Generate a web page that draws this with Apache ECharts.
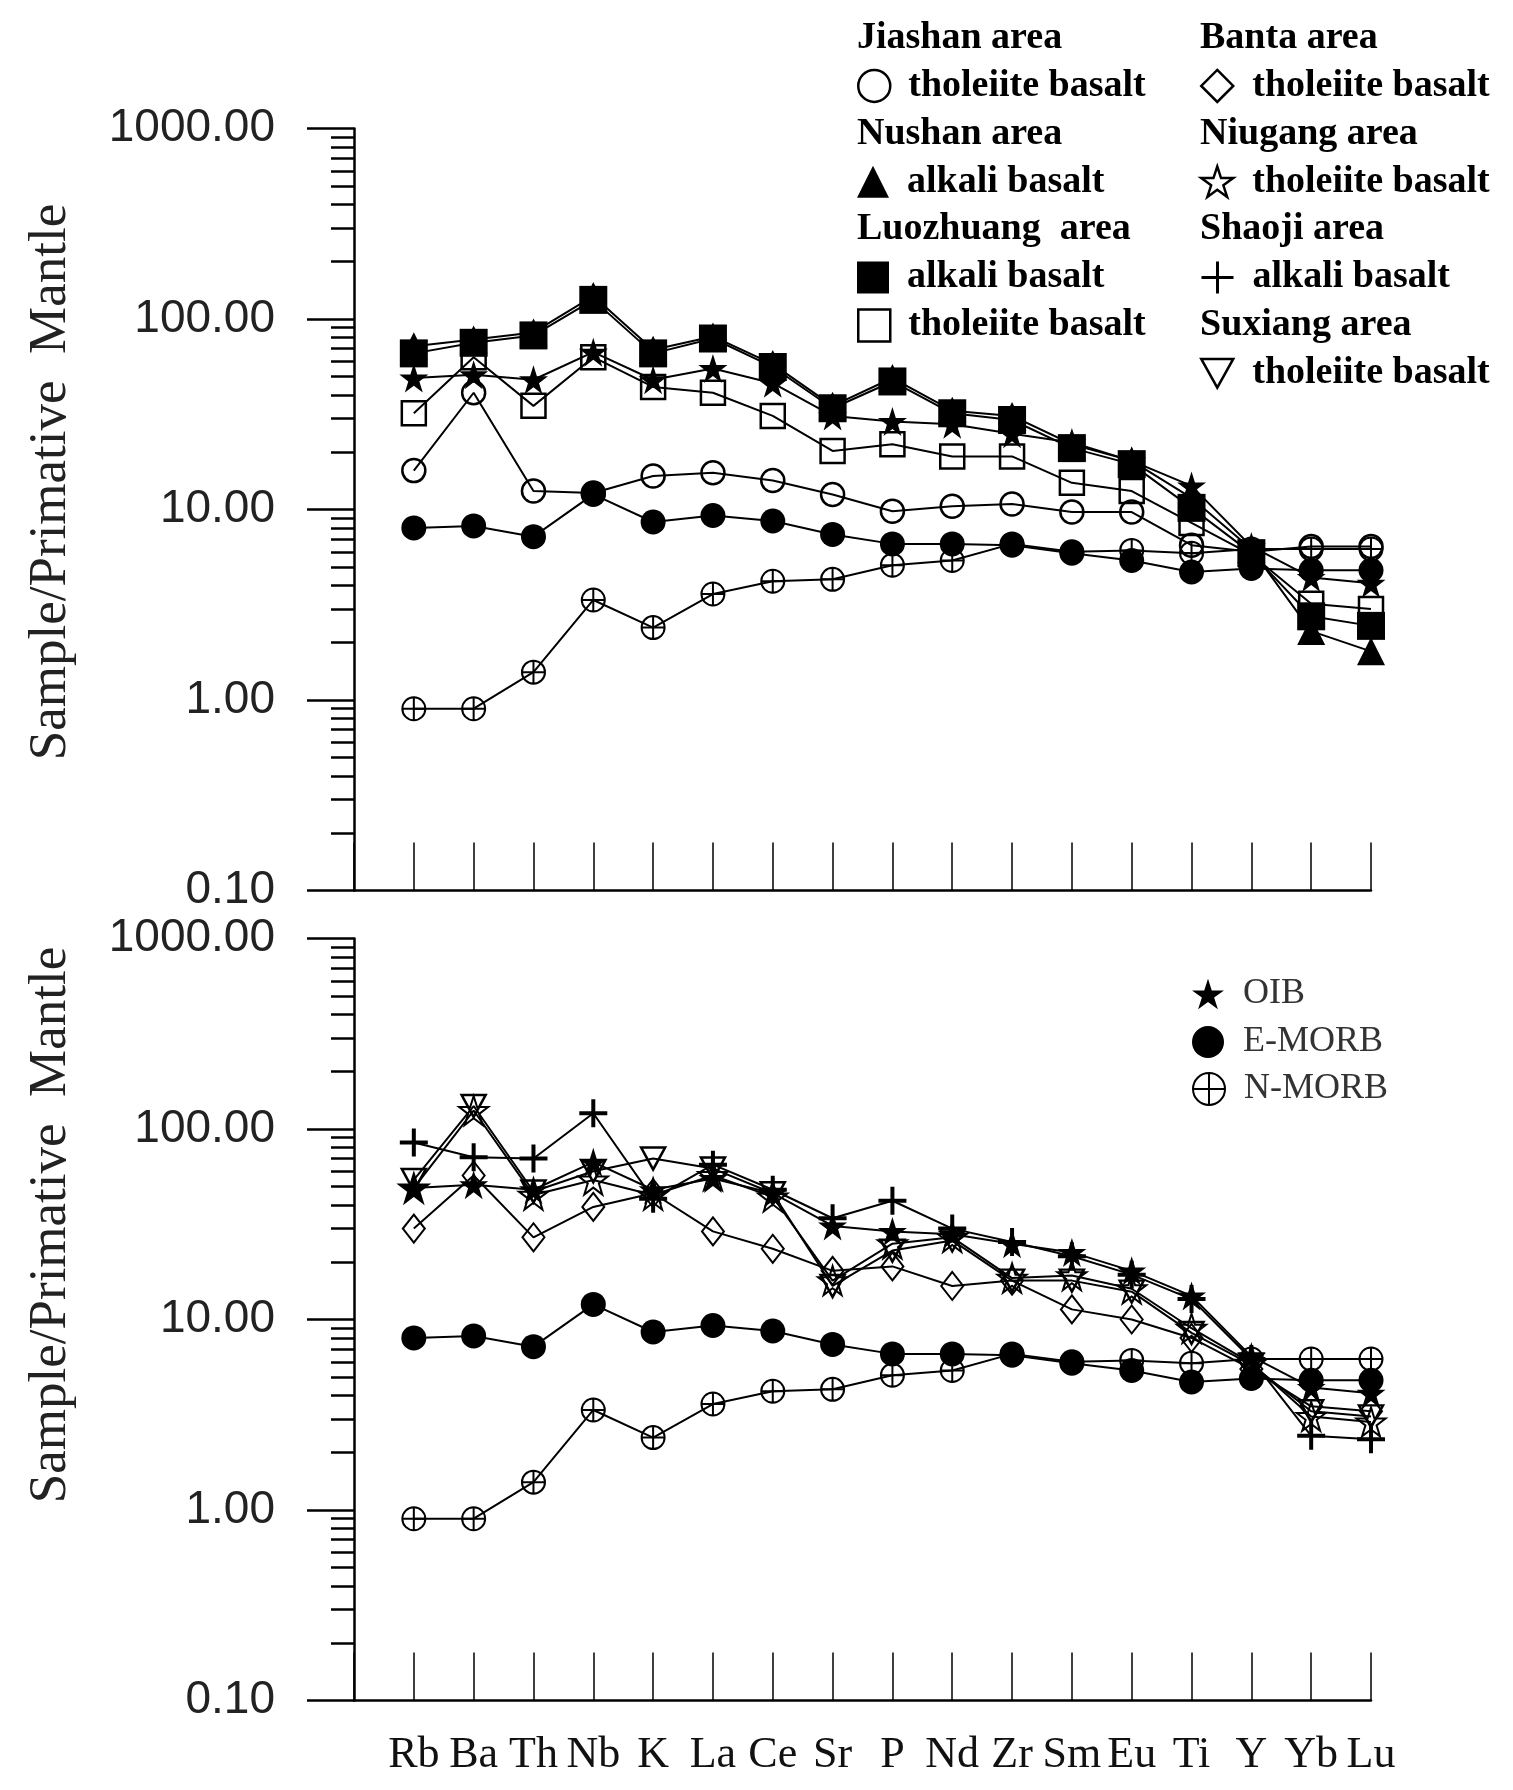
<!DOCTYPE html>
<html>
<head>
<meta charset="utf-8">
<script src="https://cdn.jsdelivr.net/npm/echarts@6/dist/echarts.min.js"></script>
<style>
html,body{margin:0;padding:0;background:#fff;}
#c{width:1513px;height:1790px;}
</style>
</head>
<body>
<div id="c"></div>
<script>
// ---------- data ----------
const elements = ['Rb','Ba','Th','Nb','K','La','Ce','Sr','P','Nd','Zr','Sm','Eu','Ti','Y','Yb','Lu'];
const categories = [''].concat(elements);
const yTickLabels = ['0.10','1.00','10.00','100.00','1000.00'];

// reference compositions
const oib   = [49, 51, 48, 67, 48, 55, 46, 31, 29, 28, 25, 22.5, 18, 13.3, 6.4, 4.4, 4.1];
const emorb = [8.0, 8.2, 7.2, 12.0, 8.6, 9.3, 8.7, 7.4, 6.6, 6.6, 6.5, 5.9, 5.4, 4.7, 4.9, 4.8, 4.8];
const nmorb = [0.9, 0.9, 1.4, 3.35, 2.4, 3.6, 4.2, 4.3, 5.1, 5.4, 6.6, 6.0, 6.1, 5.9, 6.2, 6.2, 6.2];

// upper panel
const jiashanTholeiite   = [16, 41, 12.5, 12.2, 15, 15.6, 14.2, 12.0, 9.8, 10.4, 10.7, 9.7, 9.7, 6.5, 6.0, 6.4, 6.4];
const nushanAlkali       = [72, 78, 85, 132, 69, 81, 58, 35, 49, 33, 31, 22, 18, 11.5, 6.2, 2.3, 1.8];
const luozhuangAlkali    = [66, 75, 82, 126, 66, 79, 56, 34, 47, 32, 29.5, 21, 17.3, 10.2, 5.9, 2.75, 2.45];
const luozhuangTholeiite = [32, 63, 35, 63, 44, 41, 31, 20.3, 22, 19, 19, 13.8, 12.5, 8.5, 5.8, 3.2, 3.0];

// lower panel
const bantaTholeiite   = [30, 57, 27, 39, 46, 29, 23.5, 18, 19, 15, 16, 11.3, 10, 8, 5.5, 3.5, 3.3];
const niugangTholeiite = [49, 125, 45, 54, 45, 57, 44, 16, 25, 27, 16.5, 17, 14.5, 9, 5.9, 3.1, 2.9];
const shaojiAlkali     = [85, 71, 70, 121, 43, 65, 48, 34, 42, 30, 25.5, 21.5, 17.2, 12.8, 6.2, 2.45, 2.35];
const suxiangTholeiite = [54, 132, 47, 60, 70, 62, 46, 15, 23, 26, 16, 16, 14, 8.5, 5.8, 3.3, 3.1];

// ---------- styles ----------
const SYM = {
  star: 'path://M50,0L61.8,36.3L100,36.3L69.1,58.8L80.9,95.1L50,72.6L19.1,95.1L30.9,58.8L0,36.3L38.2,36.3Z',
  plus: 'path://M5,0L5,10M0,5L10,5',
  oplus: 'path://M10,0A10,10,0,1,1,10,20A10,10,0,1,1,10,0ZM10,0L10,20M0,10L20,10',
  down: 'path://M0,0L20,0L10,18Z'
};
const NONE = 'rgba(0,0,0,0)';
const BLACK = '#000';

// minor log ticks (2..9 in each decade), positioned on an overlay axis in log10 space
const minorTicks = [];
for (let d = -1; d < 3; d++) {
  for (let k = 2; k <= 9; k++) minorTicks.push(Math.log10(k) + d);
}

function mk(name, values, panel, symbol, size, fill, bw) {
  return {
    type: 'line', name: name,
    xAxisIndex: panel, yAxisIndex: panel * 2,
    data: elements.map((e, i) => [e, values[i]]),
    symbol: symbol, symbolSize: size, showSymbol: true, showAllSymbol: true,
    lineStyle: { color: BLACK, width: 2 },
    itemStyle: { color: fill, borderColor: BLACK, borderWidth: bw },
    emphasis: { disabled: true }, silent: true, animation: false
  };
}

const series = [
  // upper panel
  mk('N-MORB', nmorb, 0, SYM.oplus, 23, NONE, 2),
  mk('Jiashan tholeiite basalt', jiashanTholeiite, 0, 'circle', 23, NONE, 2.5),
  mk('Luozhuang2 tholeiite basalt', luozhuangTholeiite, 0, 'rect', 24, NONE, 2.5),
  mk('OIB', oib, 0, SYM.star, 29, BLACK, 0),
  mk('E-MORB', emorb, 0, 'circle', 25, BLACK, 0),
  mk('Nushan alkali basalt', nushanAlkali, 0, 'triangle', 28, BLACK, 0),
  mk('Luozhuang alkali basalt', luozhuangAlkali, 0, 'rect', 28, BLACK, 0),
  // lower panel
  mk('N-MORB', nmorb, 1, SYM.oplus, 23, NONE, 2),
  mk('Banta tholeiite basalt', bantaTholeiite, 1, 'diamond', [22, 28], NONE, 2),
  mk('Suxiang tholeiite basalt', suxiangTholeiite, 1, SYM.down, [24, 22], NONE, 2.5),
  mk('Niugang tholeiite basalt', niugangTholeiite, 1, SYM.star, 29, NONE, 2),
  mk('OIB', oib, 1, SYM.star, 29, BLACK, 0),
  mk('E-MORB', emorb, 1, 'circle', 25, BLACK, 0),
  mk('Shaoji alkali basalt', shaojiAlkali, 1, SYM.plus, 28, NONE, 4)
];

// ---------- legend ----------
const rowY = i => 38 + 47.9 * i;
const areaFont = { fontFamily: 'Liberation Serif', fontWeight: 'bold', fontSize: 38, color: '#000' };
function leg(name, left, centerY, icon, fill, bw, pad, font) {
  return {
    show: true, selectedMode: false, data: [name],
    left: left, top: centerY - 19, padding: 0,
    itemWidth: 32, itemHeight: 32, icon: icon,
    itemStyle: { color: fill, borderColor: BLACK, borderWidth: bw },
    formatter: n => n.replace(/^\S+ /, ''),
    textStyle: Object.assign({ padding: [0, 0, 0, pad] }, font)
  };
}
const refFont = { fontFamily: 'Liberation Serif', fontSize: 36, color: '#333' };
const legends = [
  leg('Jiashan tholeiite basalt', 857, rowY(1), 'circle', NONE, 2.5, 13, areaFont),
  leg('Nushan alkali basalt', 857, rowY(3), 'triangle', BLACK, 0, 13, areaFont),
  leg('Luozhuang alkali basalt', 857, rowY(5), 'rect', BLACK, 0, 13, areaFont),
  leg('Luozhuang2 tholeiite basalt', 857, rowY(6), 'rect', NONE, 2.5, 13, areaFont),
  leg('Banta tholeiite basalt', 1200, rowY(1), 'diamond', NONE, 2.5, 14, areaFont),
  leg('Niugang tholeiite basalt', 1200, rowY(3), SYM.star, NONE, 2.5, 14, areaFont),
  leg('Shaoji alkali basalt', 1200, rowY(5), SYM.plus, NONE, 3, 14, areaFont),
  leg('Suxiang tholeiite basalt', 1200, rowY(7), SYM.down, NONE, 2.5, 14, areaFont),
  Object.assign(leg('OIB', 1192, 995, SYM.star, BLACK, 0, 14, refFont), { formatter: n => n }),
  Object.assign(leg('E-MORB', 1192, 1043, 'circle', BLACK, 0, 14, refFont), { formatter: n => n }),
  Object.assign(leg('N-MORB', 1192, 1090, SYM.oplus, NONE, 2, 14, refFont), { formatter: n => n })
];

const headers = [
  ['Jiashan area', 857, 0], ['Nushan area', 857, 2], ['Luozhuang  area', 857, 4],
  ['Banta area', 1200, 0], ['Niugang area', 1200, 2], ['Shaoji area', 1200, 4], ['Suxiang area', 1200, 6]
];

const graphic = headers.map(h => ({
  type: 'text', left: h[1], top: rowY(h[2]) - 19, silent: true,
  style: { text: h[0], font: 'bold 38px "Liberation Serif"', fill: '#000' }
})).concat([482, 1225].map(cy => ({
  type: 'text', x: 51, y: cy, rotation: Math.PI / 2, silent: true,
  style: { text: 'Sample/Primative  Mantle', font: '53px "Liberation Serif"', fill: '#222',
           align: 'center', verticalAlign: 'middle' }
})));

// ---------- axes ----------
function xAx(idx, showLabel) {
  return {
    gridIndex: idx, type: 'category', data: categories, boundaryGap: false,
    axisLine: { show: true, onZero: false, lineStyle: { color: BLACK, width: 2.5 } },
    axisTick: { show: true, inside: true, length: 48, interval: 0, lineStyle: { color: BLACK, width: 1.5 } },
    axisLabel: { show: showLabel, interval: 0, margin: 33, hideOverlap: false,
                 fontFamily: 'Liberation Serif', fontSize: 44, color: '#111' },
    splitLine: { show: false }
  };
}
function yLog(idx) {
  return {
    gridIndex: idx, type: 'log', logBase: 10, min: 0.1, max: 1000,
    axisLine: { show: true, onZero: false, lineStyle: { color: BLACK, width: 2.5 } },
    axisTick: { show: true, length: 47, lineStyle: { color: BLACK, width: 2.5 } },
    axisLabel: {
      margin: 79, fontFamily: 'Liberation Sans', fontSize: 46, color: '#222',
      formatter: v => {
        const k = Math.round(Math.log10(v)) + 1;
        return yTickLabels[k] !== undefined ? yTickLabels[k] : v.toFixed(2);
      }
    },
    splitLine: { show: false }
  };
}
function yMinor(idx) {
  return {
    gridIndex: idx, type: 'value', position: 'left', min: -1, max: 3,
    axisLine: { show: false, onZero: false },
    axisLabel: { show: false },
    splitLine: { show: false },
    axisTick: { show: true, customValues: minorTicks, length: 23, lineStyle: { color: BLACK, width: 2.5 } }
  };
}

const chart = echarts.init(document.getElementById('c'), null, { renderer: 'canvas' });
chart.setOption({
  animation: false,
  backgroundColor: '#fff',
  grid: [
    { left: 354, top: 128.5, width: 1017, height: 762 },
    { left: 354, top: 938.5, width: 1017, height: 762 }
  ],
  xAxis: [xAx(0, false), xAx(1, true)],
  yAxis: [yLog(0), yMinor(0), yLog(1), yMinor(1)],
  legend: legends,
  graphic: graphic,
  series: series
});
</script>
</body>
</html>
